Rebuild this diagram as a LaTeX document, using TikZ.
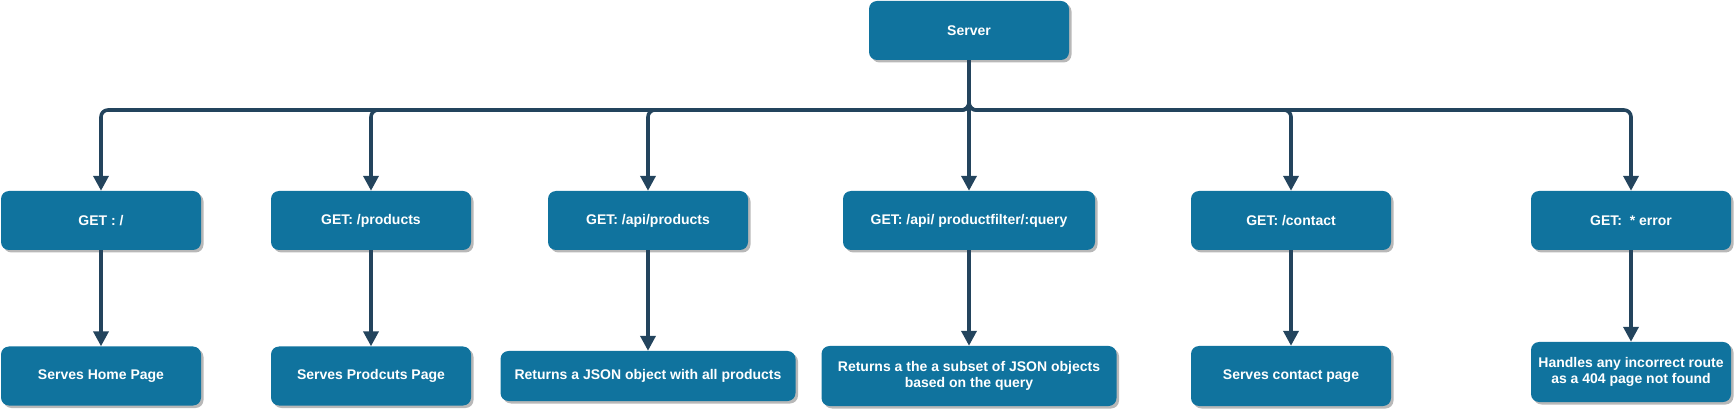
\documentclass[tikz,border=0pt]{standalone}
\usepackage{fontspec}
\setmainfont{Liberation Sans}
\usetikzlibrary{arrows.meta,shadows}
\definecolor{boxblue}{HTML}{10739E}
\definecolor{linknavy}{HTML}{23445D}
\tikzset{
        route/.style={draw=none, fill=boxblue, rounded corners=8pt, text=white, align=center,
                font=\fontsize{14}{16.5}\selectfont\bfseries, minimum width=200pt, minimum height=59pt,
                drop shadow={shadow xshift=2.5pt, shadow yshift=-2.5pt, fill=black!28, opacity=1}},
        link/.style={draw=linknavy, line width=3.6pt, rounded corners=7pt,
                -{Triangle[width=15pt,length=15pt]}}
}
\begin{document}
\begin{tikzpicture}[x=1pt, y=-1pt]
        \useasboundingbox (0,0) rectangle (1734,411);
        \node [route] (server) at (969,30.5) {Server};
        \coordinate (bus) at (969,110);
        \node [route] (get1) at (101,220.5) {GET : /};
        \node [route] (get2) at (371,220.5) {GET: /products};
        \node [route] (get3) at (648,220.5) {GET: /api/products};
        \node [route, minimum width=252pt] (get4) at (969,220.5) {GET: /api/ productfilter/:query};
        \node [route] (get5) at (1291,220.5) {GET: /contact};
        \node [route] (get6) at (1631,220.5) {GET:\ \ * error};
        \node [route] (serve1) at (101,376) {Serves Home Page};
        \node [route] (serve2) at (371,376) {Serves Prodcuts Page};
        \node [route, minimum width=295pt, minimum height=50pt] (serve3) at (648,376) {Returns a JSON object with all products};
        \node [route, minimum width=295pt, minimum height=60pt] (serve4) at (969,376) {Returns a the a subset of JSON objects\\based on the query};
        \node [route, minimum height=60pt] (serve5) at (1291,376) {Serves contact page};
        \node [route, minimum height=60pt] (serve6) at (1631,372) {Handles any incorrect route\\as a 404 page not found};
        \draw [link] (server.south) -- (bus) -| (get1.north);
        \draw [link] (server.south) -- (bus) -| (get2.north);
        \draw [link] (server.south) -- (bus) -| (get3.north);
        \draw [link] (server) -- (get4);
        \draw [link] (server.south) -- (bus) -| (get5.north);
        \draw [link] (server.south) -- (bus) -| (get6.north);
        \draw [link] (get1) -- (serve1);
        \draw [link] (get2) -- (serve2);
        \draw [link] (get3) -- (serve3);
        \draw [link] (get4) -- (serve4);
        \draw [link] (get5) -- (serve5);
        \draw [link] (get6) -- (serve6);
\end{tikzpicture}
\end{document}
